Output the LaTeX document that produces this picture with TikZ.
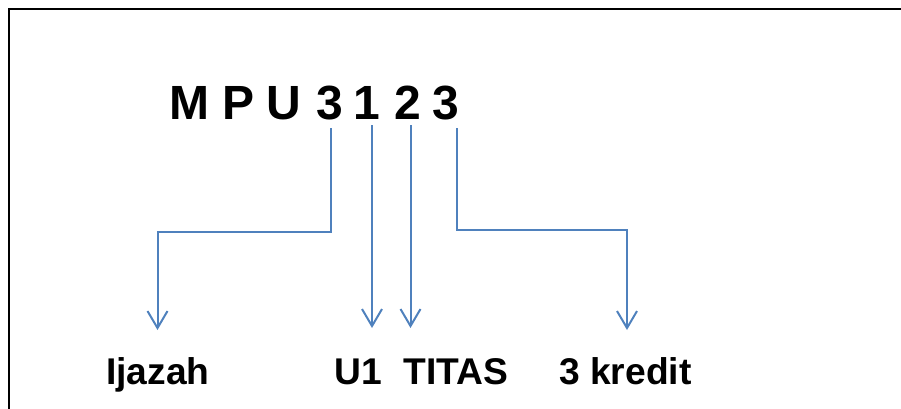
\documentclass[tikz,border=0pt]{standalone}
\usepackage{fontspec}
\setmainfont{Liberation Sans}
\usetikzlibrary{arrows.meta}
\definecolor{linkblue}{RGB}{79,129,189}
\begin{document}
\begin{tikzpicture}[x=1pt,y=-1pt,
  big/.style={inner sep=0pt,anchor=base,font=\fontsize{48}{50}\selectfont\bfseries},
  lbl/.style={inner sep=0pt,anchor=base west,font=\fontsize{37.2}{40}\selectfont\bfseries},
  conn/.style={draw=linkblue,line width=2pt,-{Straight Barb[length=17pt,width=20pt]}},
  frame/.style={line width=2.6pt,line join=miter}]
\useasboundingbox (0,0) rectangle (901,409);
\draw[frame] (9,409) -- (9,9) -- (901,9);
% code letters
\node[big] (cM) at (189,119.5) {M};
\node[big] (cP) at (239,119.5) {P};
\node[big] (cU) at (284,119.5) {U};
\node[big] (d1) at (330,119.5) {3};
\node[big] (d2) at (367,119.5) {1};
\node[big] (d3) at (408,119.5) {2};
\node[big] (d4) at (446,119.5) {3};
% labels
\node[lbl] (lij) at (106,384) {Ijazah};
\node[lbl] (lu1) at (334.5,384) {U1};
\node[lbl] (lti) at (403.5,384) {TITAS};
\node[lbl] (lkr) at (559,384) {3 kredit};
% connector ends
\coordinate (s1) at (331,128);
\coordinate (s2) at (372,125);
\coordinate (s3) at (410.5,125);
\coordinate (s4) at (457,128);
\coordinate (e1) at (157.5,330);
\coordinate (e2) at (372,328);
\coordinate (e3) at (410.5,328);
\coordinate (e4) at (627,330);
\draw[conn] (s1) -- (331,232) -| (e1);
\draw[conn] (s2) -- (e2);
\draw[conn] (s3) -- (e3);
\draw[conn] (s4) -- (457,230) -| (e4);
\end{tikzpicture}
\end{document}
